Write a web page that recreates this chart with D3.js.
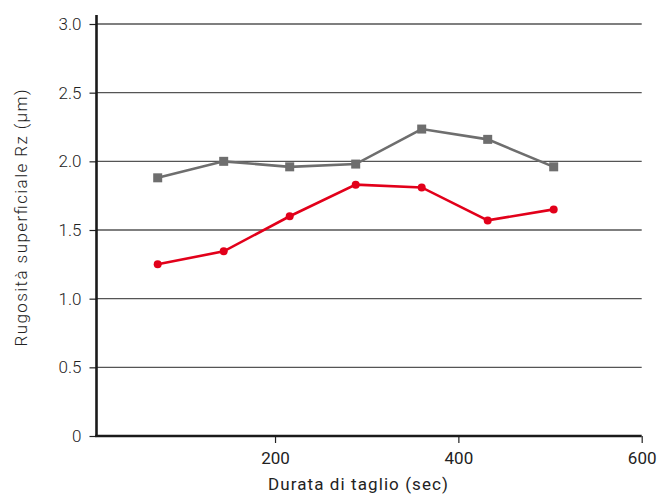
<!DOCTYPE html>
<html><head><meta charset="utf-8">
<script src="https://cdn.jsdelivr.net/npm/d3@7"></script>
<style>body{margin:0;background:#fff}svg{display:block}</style>
</head><body>
<svg id="c" width="658" height="495"></svg>
<script>
const times = [72, 144, 216, 288, 360, 432, 504];
const graySeries = [1.88, 2.00, 1.96, 1.98, 2.235, 2.16, 1.96];
const redSeries = [1.25, 1.345, 1.60, 1.83, 1.81, 1.57, 1.65];
const yTicks = [0, 0.5, 1.0, 1.5, 2.0, 2.5, 3.0];
const xTicks = [200, 400, 600];

const svg = d3.select('#c');
const x = d3.scaleLinear().domain([0, 600]).range([91.7, 641.7]);
const y = d3.scaleLinear().domain([0, 3]).range([436, 24]);
const x0 = 96.5;
const font = 'Roboto, sans-serif';

// gridlines
svg.append('g').selectAll('line').data(yTicks.filter(d => d > 0)).join('line')
  .attr('x1', x0).attr('x2', x(600)).attr('y1', d => y(d)).attr('y2', d => y(d))
  .attr('stroke', '#555').attr('stroke-width', 1.3);

// y axis
const yAxis = svg.append('g').attr('transform', `translate(${x0},0)`)
  .call(d3.axisLeft(y).tickValues(yTicks).tickSize(7).tickPadding(8)
    .tickFormat(d => d === 0 ? '0' : d3.format('.1f')(d)));
yAxis.select('.domain').remove();
yAxis.selectAll('line').attr('stroke', '#222').attr('stroke-width', 1.2);
yAxis.selectAll('text').attr('font-family', font).attr('font-size', 17).attr('fill', '#222').attr('font-weight', 300);
svg.append('line').attr('x1', x0).attr('x2', x0).attr('y1', 15).attr('y2', 437)
  .attr('stroke', '#1a1a1a').attr('stroke-width', 2.6);

// x axis
const xAxis = svg.append('g').attr('transform', `translate(0,436)`)
  .call(d3.axisBottom(x).tickValues(xTicks).tickSize(7).tickPadding(9));
xAxis.select('.domain').remove();
xAxis.selectAll('line').attr('stroke', '#222').attr('stroke-width', 1.2);
xAxis.selectAll('text').attr('font-family', font).attr('font-size', 17).attr('fill', '#222');
svg.append('line').attr('x1', x0 - 1.3).attr('x2', x(600)).attr('y1', 436).attr('y2', 436)
  .attr('stroke', '#1a1a1a').attr('stroke-width', 2.6);

// titles
svg.append('text').attr('x', 358).attr('y', 490).attr('text-anchor', 'middle')
  .attr('font-family', font).attr('font-size', 17).attr('fill', '#222')
  .attr('textLength', 180).attr('lengthAdjust', 'spacing')
  .text('Durata di taglio (sec)');
svg.append('text').attr('transform', 'translate(27,218) rotate(-90)').attr('text-anchor', 'middle')
  .attr('font-family', font).attr('font-size', 17).attr('fill', '#222').attr('font-weight', 300)
  .attr('textLength', 257).attr('lengthAdjust', 'spacing')
  .text('Rugosità superficiale Rz (µm)');

const line = d3.line().x((d, i) => x(times[i])).y(d => y(d));
// gray
svg.append('path').datum(graySeries).attr('d', line).attr('fill', 'none')
  .attr('stroke', '#6e6e6e').attr('stroke-width', 2.6);
svg.append('g').selectAll('rect').data(graySeries).join('rect')
  .attr('x', (d, i) => x(times[i]) - 4.5).attr('y', d => y(d) - 4.5)
  .attr('width', 9).attr('height', 9).attr('fill', '#6e6e6e');
// red
svg.append('path').datum(redSeries).attr('d', line).attr('fill', 'none')
  .attr('stroke', '#e2001a').attr('stroke-width', 2.6);
svg.append('g').selectAll('circle').data(redSeries).join('circle')
  .attr('cx', (d, i) => x(times[i])).attr('cy', d => y(d)).attr('r', 4)
  .attr('fill', '#e2001a');
</script>
</body></html>
